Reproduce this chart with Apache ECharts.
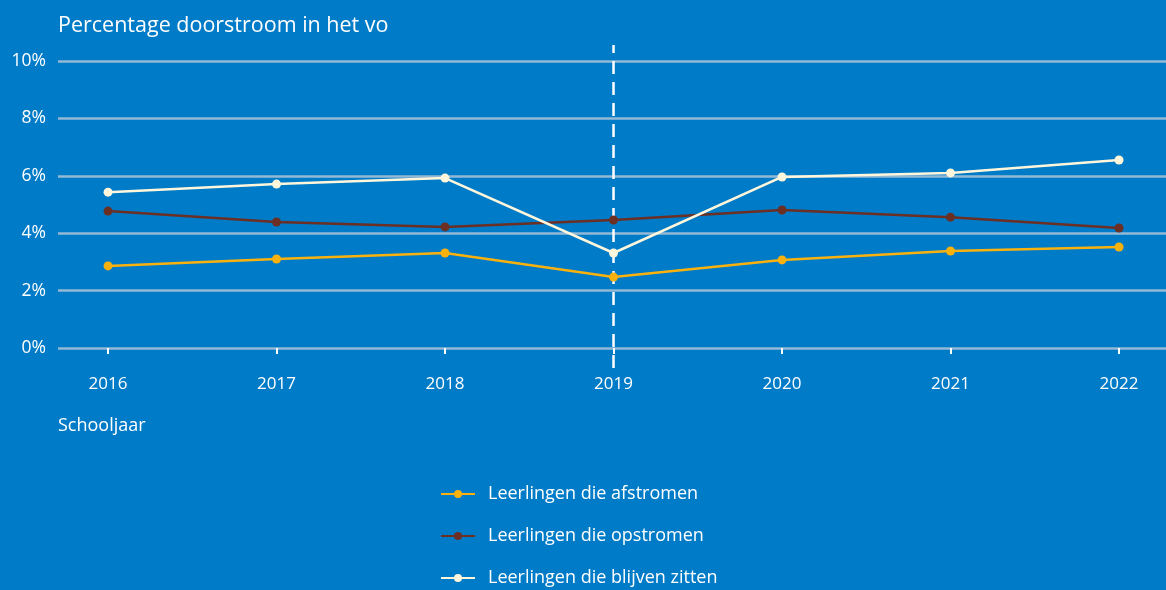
<!DOCTYPE html>
<html>
<head>
<meta charset="utf-8">
<script src="https://cdn.jsdelivr.net/npm/echarts@6/dist/echarts.min.js"></script>
<style>
  html, body { margin: 0; padding: 0; background: #007bc7; }
  #chart { width: 1166px; height: 590px; }
</style>
</head>
<body>
<div id="chart"></div>
<script>
// schooljaren en percentages
var years = [2016, 2017, 2018, 2019, 2020, 2021, 2022]
var afstromen = [2.86, 3.10, 3.31, 2.47, 3.07, 3.38, 3.52]
var opstromen = [4.77, 4.39, 4.22, 4.46, 4.81, 4.56, 4.18]
var blijvenZitten = [5.43, 5.71, 5.92, 3.31, 5.96, 6.10, 6.55]
var seriesNames = ['Leerlingen die afstromen', 'Leerlingen die opstromen', 'Leerlingen die blijven zitten']
var yTicks = [0, 2, 4, 6, 8, 10]
var markYear = 2019

var colors = ['#f9b10e', '#6b2f24', '#fff6dc']
var font = 'Open Sans'

function pairs (vals) {
  return vals.map(function (v, i) { return [years[i], v] })
}

var xMin = 2015.703
var xMax = 2022.279

var chart = echarts.init(document.getElementById('chart'))

var option = {
  backgroundColor: '#007bc7',
  animation: false,
  title: [
    {
      text: 'Percentage doorstroom in het vo',
      left: 58,
      top: 15,
      padding: 0,
      textStyle: { color: '#ffffff', fontFamily: font, fontSize: 21.5, fontWeight: 'normal' }
    },
    {
      text: 'Schooljaar',
      left: 58,
      top: 417,
      padding: 0,
      textStyle: { color: '#ffffff', fontFamily: font, fontSize: 18, fontWeight: 'normal' }
    }
  ],
  legend: {
    orient: 'vertical',
    left: 440,
    top: 485,
    height: 110,
    padding: 0,
    itemWidth: 34,
    itemHeight: 10,
    itemGap: 24,
    data: seriesNames,
    textStyle: { color: '#ffffff', fontFamily: font, fontSize: 18, padding: [0, 0, 0, 8] }
  },
  grid: [
    { left: 58, right: 0, top: 61, height: 287 },
    // only for the dashed 2019 line, which runs past the plot area
    { left: 58, right: 0, top: 45, height: 323 }
  ],
  xAxis: [
    {
      type: 'value',
      gridIndex: 0,
      min: xMin,
      max: xMax,
      offset: 14,
      splitLine: { show: false },
      axisLine: { show: false },
      axisTick: {
        show: true,
        customValues: years,
        length: 6,
        inside: false,
        lineStyle: { color: '#ffffff', width: 2 }
      },
      axisLabel: {
        customValues: years,
        color: '#ffffff',
        fontFamily: font,
        fontSize: 17,
        margin: 14,
        formatter: function (v) { return String(v) }
      }
    },
    {
      type: 'value',
      gridIndex: 1,
      min: xMin,
      max: xMax,
      show: false
    }
  ],
  yAxis: [
    {
      type: 'value',
      gridIndex: 0,
      min: 0,
      max: 10,
      interval: 2,
      axisLine: { show: false },
      axisTick: { show: false },
      axisLabel: {
        customValues: yTicks,
        color: '#ffffff',
        fontFamily: font,
        fontSize: 17.5,
        margin: 12,
        formatter: '{value}%'
      },
      splitLine: { lineStyle: { color: '#93b9d6', width: 2.5 } }
    },
    {
      type: 'value',
      gridIndex: 1,
      min: 0,
      max: 1,
      show: false
    }
  ],
  series: [
    {
      name: 'marker',
      type: 'line',
      xAxisIndex: 1,
      yAxisIndex: 1,
      data: [[markYear, 0], [markYear, 1]],
      symbol: 'none',
      silent: true,
      lineStyle: { color: '#ffffff', width: 2.5, type: [13, 8] },
      z: 1
    },
    {
      name: seriesNames[0],
      type: 'line',
      data: pairs(afstromen),
      symbol: 'circle',
      symbolSize: 9,
      color: colors[0],
      lineStyle: { width: 2.5 },
      z: 3
    },
    {
      name: seriesNames[1],
      type: 'line',
      data: pairs(opstromen),
      symbol: 'circle',
      symbolSize: 9,
      color: colors[1],
      lineStyle: { width: 2.5 },
      z: 4
    },
    {
      name: seriesNames[2],
      type: 'line',
      data: pairs(blijvenZitten),
      symbol: 'circle',
      symbolSize: 9,
      color: colors[2],
      lineStyle: { width: 2.5 },
      z: 5
    }
  ]
}

chart.setOption(option)
</script>
</body>
</html>
